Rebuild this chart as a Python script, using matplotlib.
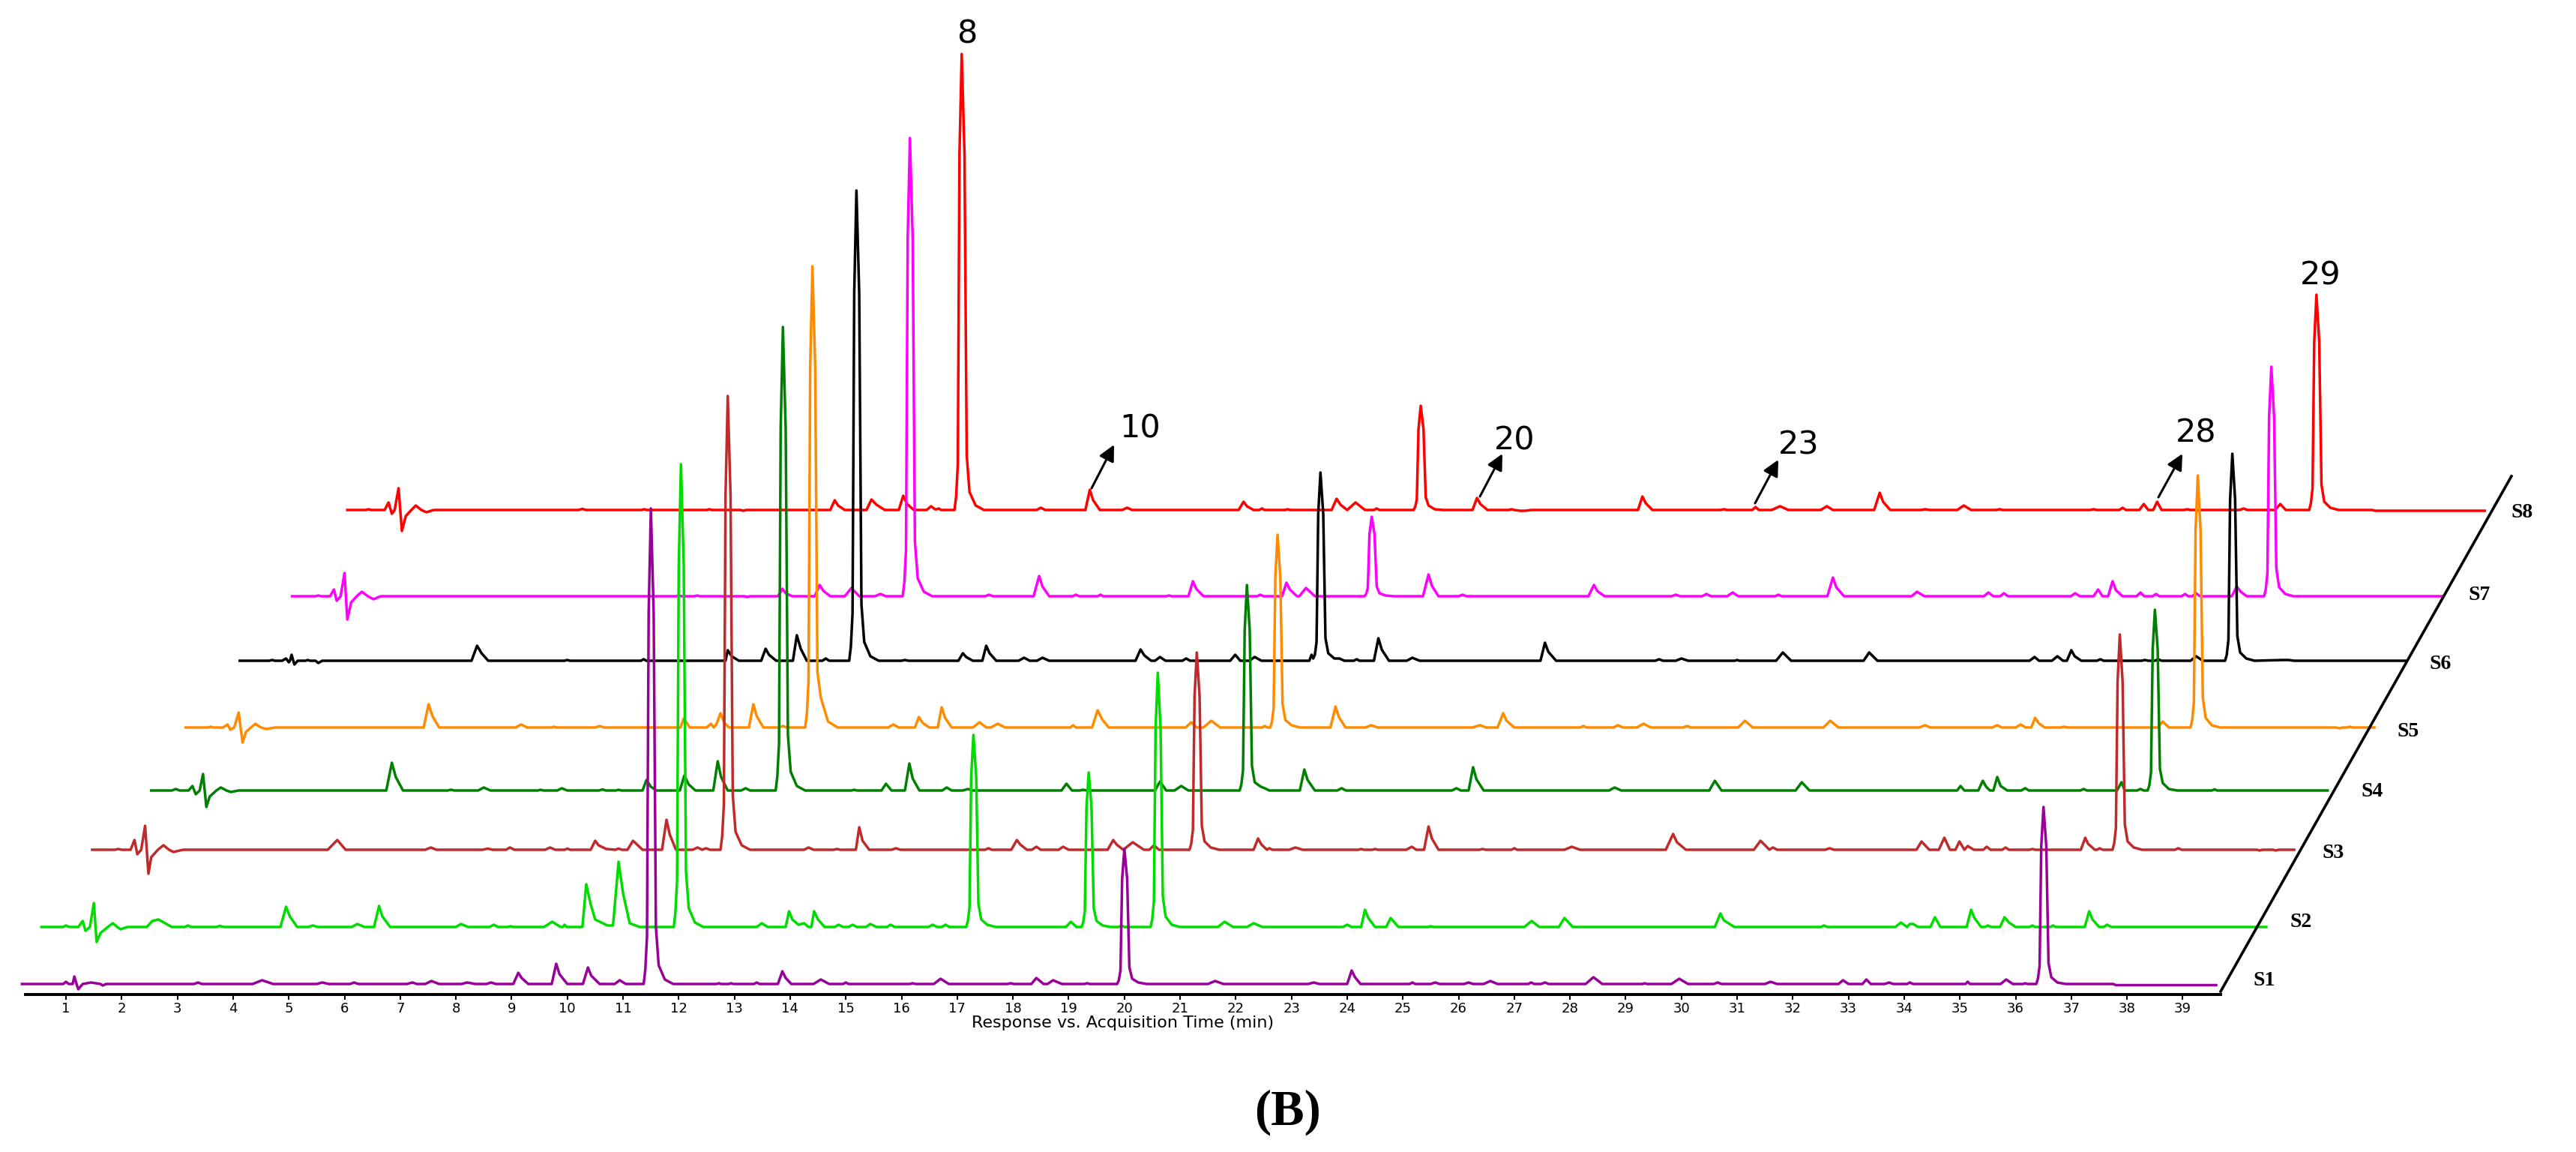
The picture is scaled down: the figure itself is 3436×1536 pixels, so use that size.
import matplotlib
matplotlib.use("Agg")
import matplotlib.pyplot as plt
from matplotlib.transforms import Affine2D

# apparent retention time read against the bottom axis (min), height above own baseline
s1_t = [0.21, 0.95, 1.0, 1.05, 1.12, 1.15, 1.19, 1.22, 1.3, 1.45, 1.62, 1.66, 1.72,
        3.3, 3.37, 3.44, 4.35, 4.52, 4.72, 5.5, 5.6, 5.72, 6.1, 6.17, 6.25, 7.12, 7.22, 7.3,
        7.45, 7.56, 7.7, 8.1, 8.2, 8.35, 8.55, 8.63, 8.72,
        9.03, 9.12, 9.18, 9.3, 9.72, 9.8, 9.86, 10.0, 10.28, 10.37, 10.43, 10.58, 10.85, 10.94, 11.05,
        11.37, 11.4, 11.43, 11.46, 11.5, 11.55, 11.59, 11.64, 11.75, 11.9,
        12.68, 12.72, 12.76, 12.9, 12.94, 12.98, 13.35, 13.4, 13.45,
        13.78, 13.86, 13.92, 14.02, 14.42, 14.55, 14.7, 14.95, 15.0, 15.05,
        16.15, 16.2, 16.25, 16.58, 16.7, 16.85, 17.9, 17.96, 18.02, 18.33, 18.42, 18.55, 18.62, 18.72, 18.88,
        19.28, 19.33, 19.38, 19.87, 19.9, 19.93, 19.96, 20.0, 20.05, 20.09, 20.14, 20.25, 20.4,
        21.5, 21.63, 21.78, 23.3, 23.4, 23.5, 24.0, 24.08, 24.14, 24.24,
        25.12, 25.17, 25.22, 25.5, 25.58, 25.66, 26.1, 26.18, 26.26, 26.45, 26.57, 26.7,
        27.25, 27.3, 27.36, 27.48, 27.55, 27.62, 28.28, 28.42, 28.58, 29.3, 29.34, 29.38, 29.82, 29.96, 30.12,
        30.58, 30.65, 30.72, 31.5, 31.6, 31.72, 32.82, 32.9, 33.0, 33.25, 33.32, 33.4, 33.65, 33.73, 33.8,
        34.05, 34.1, 34.16, 35.1, 35.14, 35.18, 35.73, 35.83, 35.95, 36.13, 36.17, 36.21,
        36.37, 36.4, 36.43, 36.46, 36.5, 36.55, 36.59, 36.64, 36.75, 36.9,
        37.75, 37.8, 39.6]
s1_y = [0, 0, 3, 0, 0, 10, 0, -7, 0, 2, 0, -2, 0,
        0, 2, 0, 0, 5, 0, 0, 2, 0, 0, 2, 0, 0, 2, 0,
        0, 4, 0, 0, 2, 0, 0, 2, 0,
        0, 15, 8, 0, 0, 27, 13, 0, 0, 22, 11, 0, 0, 5, 0,
        0, 19, 63, 495, 634, 495, 76, 25, 6, 0,
        0, 1, 0, 0, 1, 0, 0, 2, 0,
        0, 17, 8, 0, 0, 6, 0, 0, 2, 0,
        0, 1, 0, 0, 7, 0, 0, 1, 0, 0, 8, 0, 0, 5, 0,
        0, 1, 0, 0, 5, 18, 140, 180, 140, 22, 7, 2, 0,
        0, 4, 0, 0, 2, 0, 0, 18, 9, 0,
        0, 2, 0, 0, 2, 0, 0, 2, 0, 0, 4, 0,
        0, 2, 0, 0, 2, 0, 0, 9, 0, 0, 1, 0, 0, 7, 0,
        0, 2, 0, 0, 3, 0, 0, 5, 0, 0, 6, 0, 0, 2, 0,
        0, 2, 0, 0, 3, 0, 0, 6, 0, 0, 1, 0,
        0, 7, 24, 184, 236, 184, 28, 9, 2, 0,
        0, -1.5, -1.5]

s2_t = [0.56, 0.95, 1.0, 1.06, 1.22, 1.3, 1.35, 1.43, 1.5, 1.55, 1.62, 1.75, 1.84, 1.92, 1.98, 2.1,
        2.45, 2.55, 2.66, 2.9, 3.13, 3.19, 3.25, 3.7, 3.76, 3.84,
        4.85, 4.95, 5.02, 5.15, 5.35, 5.43, 5.52, 6.13, 6.23, 6.36, 6.53, 6.62, 6.68, 6.82,
        8.0, 8.09, 8.22, 8.6, 8.68, 8.76, 8.93, 8.98, 9.03, 9.58, 9.73, 9.88, 9.92, 9.95, 9.99,
        10.27, 10.34, 10.42, 10.5, 10.72, 10.82, 10.92, 11.0, 11.12, 11.3,
        11.91, 11.94, 11.97, 12.0, 12.04, 12.09, 12.13, 12.18, 12.29, 12.44,
        13.4, 13.49, 13.6, 13.92, 13.98, 14.04, 14.15, 14.25, 14.33, 14.38, 14.43, 14.5, 14.62,
        14.8, 14.87, 14.95, 15.05, 15.12, 15.2, 15.36, 15.44, 15.55, 15.74, 15.8, 15.88,
        16.48, 16.56, 16.64, 16.72, 16.79, 16.86,
        17.16, 17.19, 17.22, 17.25, 17.29, 17.34, 17.38, 17.43, 17.54, 17.69,
        18.95, 19.04, 19.14, 19.23, 19.26, 19.29, 19.32, 19.36, 19.41, 19.45, 19.5, 19.61, 19.76,
        19.9, 19.95, 20.0, 20.47, 20.5, 20.53, 20.56, 20.6, 20.65, 20.69, 20.74, 20.85, 21.0,
        21.68, 21.8, 21.95, 22.2, 22.32, 22.48, 23.92, 24.0, 24.08, 24.25, 24.32, 24.38, 24.5,
        24.7, 24.78, 24.92, 25.45, 25.5, 25.55, 27.18, 27.31, 27.45, 27.8, 27.9, 28.05,
        30.6, 30.7, 30.76, 30.95, 32.5, 32.56, 32.62, 33.84, 33.94, 34.05, 34.1, 34.16, 34.25,
        34.47, 34.55, 34.65, 35.12, 35.2, 35.26, 35.38, 35.45, 35.5, 35.56, 35.72, 35.8, 35.88, 36.0,
        36.25, 36.3, 36.35, 36.62, 36.67, 36.72, 37.24, 37.32, 37.38, 37.5, 37.58, 37.64, 37.72, 40.5]
s2_y = [0, 0, 2, 0, 0, 8, -5, 0, 32, -20, -8, 0, 5, 0, -3, 0,
        0, 8, 10, 0, 0, 2, 0, 0, 1.5, 0,
        0, 27, 14, 0, 0, 2, 0, 0, 4, 0, 0, 28, 14, 0,
        0, 4, 0, 0, 3, 0, 0, 1, 0, 0, 7, 0, 0, 3, 0,
        0, 57, 30, 10, 2, 2, 87, 45, 5, 0,
        0, 19, 62, 481, 617, 481, 74, 25, 6, 0,
        0, 5, 0, 0, 21, 10, 3, 5, 0, 0, 21, 10, 0,
        0, 3, 0, 0, 3, 0, 0, 4, 0, 0, 3, 0,
        0, 3, 0, 0, 3, 0,
        0, 8, 26, 200, 256, 200, 31, 10, 3, 0,
        0, 7, 0, 0, 6, 21, 160, 206, 160, 25, 8, 2, 0,
        0, 2, 0, 0, 10, 34, 264, 339, 264, 41, 14, 3, 0,
        0, 7, 0, 0, 5, 0, 0, 3, 0, 0, 23, 12, 0,
        0, 12, 0, 0, 1, 0, 0, 8, 0, 0, 12, 0,
        0, 18, 9, 0, 0, 2, 0, 0, 6, 0, 4, 4, 0,
        0, 13, 0, 0, 23, 12, 0, 0, 2, 0, 0, 13, 6, 0,
        0, 2, 0, 0, 2, 0, 0, 21, 10, 0, 0, 3, 0, 0]

s3_t = [1.47, 1.88, 1.94, 2.0, 2.16, 2.23, 2.28, 2.35, 2.42, 2.48, 2.53, 2.65, 2.75, 2.85, 2.93, 3.1,
        5.7, 5.87, 6.02, 7.45, 7.55, 7.65, 8.48, 8.57, 8.66, 8.9, 8.97, 9.05, 9.6, 9.69, 9.78, 9.95, 10.0, 10.05,
        10.42, 10.5, 10.56, 10.7, 10.86, 10.92, 10.98, 11.08, 11.18, 11.35,
        11.7, 11.78, 11.84, 11.95, 12.25, 12.34, 12.42, 12.49, 12.56,
        12.75, 12.78, 12.81, 12.84, 12.88, 12.93, 12.97, 13.02, 13.13, 13.28,
        14.25, 14.33, 14.42, 14.78, 14.84, 14.9, 15.18, 15.24, 15.3, 15.42,
        15.82, 15.9, 15.98, 17.5, 17.56, 17.62, 17.97, 18.07, 18.13, 18.25, 18.34, 18.42, 18.5, 18.82, 18.9, 19.0,
        19.7, 19.8, 19.86, 19.98, 20.15, 20.35, 20.45, 20.53, 20.62, 21.17, 21.2, 21.23, 21.26, 21.3, 21.35, 21.39, 21.44, 21.55, 21.7,
        22.32, 22.4, 22.46, 22.56, 22.6, 22.66, 22.96, 23.07, 23.2, 24.2, 24.25, 24.3, 24.45, 24.5, 24.55,
        25.06, 25.16, 25.24, 25.38, 25.46, 25.52, 25.64, 26.38, 26.43, 26.48, 26.95, 27.0, 27.05, 27.9, 28.03, 28.18,
        29.72, 29.85, 29.92, 30.08, 31.3, 31.42, 31.5, 31.58, 31.64, 31.72, 32.58, 32.66, 32.74, 34.22, 34.31, 34.45,
        34.62, 34.72, 34.82, 34.92, 34.99, 35.08, 35.14, 35.25, 35.42, 35.48, 35.55, 35.76, 35.82, 35.88, 36.25, 36.3, 36.35,
        37.17, 37.25, 37.3, 37.42, 37.46, 37.51, 37.56,
        37.74, 37.77, 37.8, 37.83, 37.87, 37.92, 37.96, 38.01, 38.12, 38.27,
        38.86, 38.92, 38.98, 40.33, 40.38, 40.43, 40.62, 40.67, 40.72, 41.0]
s3_y = [0, 0, 1, 0, 0, 13, -6, 0, 32, -32, -10, 0, 6, 0, -3, 0,
        0, 13, 0, 0, 3, 0, 0, 1.5, 0, 0, 3, 0, 0, 3, 0, 0, 1.5, 0,
        0, 12, 6, 1, 0, 1.5, 0, 0, 12, 0,
        0, 40, 20, 0, 0, 3, 0, 2, 0,
        0, 18, 60, 472, 605, 472, 73, 24, 6, 0,
        0, 3, 0, 0, 1, 0, 0, 30, 12, 0,
        0, 2, 0, 0, 2, 0, 0, 13, 7, 0, 0, 4, 0, 0, 4, 0,
        0, 13, 7, 0, 10, 0, 0, 6, 0, 0, 8, 26, 205, 263, 205, 32, 11, 3, 0,
        0, 15, 7, 0, 2, 0, 0, 3, 0, 0, 1, 0, 0, 1, 0,
        0, 4, 0, 0, 31, 15, 0, 0, 1, 0, 0, 2, 0, 0, 4, 0,
        0, 21, 10, 0, 0, 12, 6, 0, 3, 0, 0, 2, 0, 0, 11, 0,
        0, 16, 0, 0, 11, 0, 5, 0, 0, 4, 0, 0, 3, 0, 0, 1, 0,
        0, 16, 8, 0, 0, 2, 0,
        0, 9, 29, 224, 287, 224, 34, 11, 3, 0,
        0, 2, 0, 0, -1, 0, 0, -1, 0, 0]

s4_t = [2.53, 2.9, 2.97, 3.04, 3.2, 3.27, 3.33, 3.4, 3.46, 3.52, 3.58, 3.7, 3.78, 3.88, 3.96, 4.1,
        6.75, 6.85, 6.92, 7.05, 7.85, 7.91, 7.97, 8.4, 8.5, 8.62, 9.47, 9.52, 9.57, 9.82, 9.9, 10.0,
        10.57, 10.63, 10.69, 10.87, 10.92, 10.97, 11.35, 11.42, 11.5, 11.6, 12.02, 12.1, 12.18, 12.3,
        12.62, 12.7, 12.76, 12.88, 13.12, 13.2, 13.28,
        13.74, 13.77, 13.8, 13.83, 13.87, 13.92, 13.96, 14.01, 14.12, 14.27,
        15.1, 15.15, 15.2, 15.64, 15.72, 15.82, 16.06, 16.14, 16.2, 16.32, 16.73, 16.81, 16.9, 17.1, 17.19, 17.28,
        18.87, 18.96, 19.06, 19.2, 19.26, 19.32, 20.55, 20.64, 20.75, 20.9, 21.02, 21.15,
        22.07, 22.1, 22.13, 22.16, 22.2, 22.25, 22.29, 22.34, 22.45, 22.52, 22.6,
        23.15, 23.23, 23.29, 23.42, 23.82, 23.9, 23.98, 25.88, 25.96, 26.04, 26.18, 26.26, 26.32, 26.45,
        28.7, 28.8, 28.92, 30.5, 30.6, 30.72, 32.05, 32.16, 32.3,
        34.95, 35.01, 35.08, 35.33, 35.41, 35.47, 35.54, 35.6, 35.67, 35.73, 35.85, 36.1, 36.17, 36.24,
        37.16, 37.22, 37.28, 37.82, 37.9, 37.96, 38.18, 38.24, 38.3,
        38.37, 38.4, 38.43, 38.46, 38.5, 38.55, 38.59, 38.64, 38.75, 38.9,
        39.52, 39.57, 39.62, 41.6]
s4_y = [0, 0, 2, 0, 0, 6, -5, 0, 22, -22, -8, 0, 4, 0, -2, 0,
        0, 37, 18, 0, 0, 1, 0, 0, 4, 0, 0, 1, 0, 0, 3, 0,
        0, 1.5, 0, 0, 1, 0, 0, 14, 5, 0, 0, 20, 8, 0,
        0, 39, 18, 0, 0, 3, 0,
        0, 19, 62, 482, 618, 482, 74, 25, 6, 0,
        0, 1, 0, 0, 9, 0, 0, 36, 16, 0, 0, 4, 0, 0, 2, 0,
        0, 9, 0, 0, 1, 0, 0, 12, 0, 0, 6, 0,
        0, 8, 27, 214, 274, 214, 33, 11, 5, 3, 0,
        0, 28, 14, 0, 0, 3, 0, 0, 3, 0, 0, 31, 15, 0,
        0, 4, 0, 0, 13, 0, 0, 11, 0,
        0, 6, 0, 0, 13, 5, 0, 0, 18, 6, 0, 0, 3, 0,
        0, 2, 0, 0, 11, 0, 0, 2, 0,
        0, 7, 24, 188, 241, 188, 29, 10, 2, 0,
        0, 1.5, 0, 0]

s5_t = [3.15, 3.55, 3.6, 3.65, 3.82, 3.9, 3.95, 4.02, 4.1, 4.17, 4.23, 4.32, 4.4, 4.5, 4.6, 4.75,
        7.42, 7.51, 7.58, 7.7, 9.07, 9.17, 9.28, 9.72, 9.76, 9.8, 10.5, 10.58, 10.66, 12.03, 12.09, 12.2,
        12.5, 12.58, 12.63, 12.68, 12.75, 12.82, 12.9, 13.26, 13.34, 13.4, 13.52, 13.8, 13.87, 13.94,
        14.27, 14.3, 14.33, 14.36, 14.4, 14.45, 14.49, 14.55, 14.68, 14.85,
        15.76, 15.85, 15.95, 16.24, 16.31, 16.38, 16.5, 16.65, 16.72, 16.78, 16.9,
        17.28, 17.4, 17.52, 17.6, 17.73, 17.86, 19.03, 19.08, 19.13, 19.42, 19.52, 19.6, 19.72,
        21.1, 21.2, 21.3, 21.42, 21.56, 21.72, 22.47, 22.52, 22.57,
        22.62, 22.65, 22.68, 22.71, 22.75, 22.8, 22.84, 22.89, 23.0, 23.15,
        23.7, 23.79, 23.85, 23.97, 24.33, 24.43, 24.55, 26.25, 26.38, 26.5, 26.7, 26.8, 26.86, 27.0,
        28.18, 28.24, 28.3, 28.78, 28.86, 28.95, 29.2, 29.32, 29.45, 30.03, 30.1, 30.17,
        31.02, 31.14, 31.28, 32.55, 32.67, 32.82, 34.27, 34.37, 34.47,
        35.58, 35.67, 35.75, 36.0, 36.09, 36.18, 36.28, 36.35, 36.41, 36.52, 36.8, 36.87, 36.94,
        38.55, 38.64, 38.75,
        39.14, 39.17, 39.2, 39.23, 39.27, 39.32, 39.36, 39.41, 39.52, 39.67,
        41.75, 41.81, 41.87, 41.95, 42.0, 42.05, 42.44]
s5_y = [0, 0, 1, 0, 0, 4, -3, 0, 20, -20, -6, 0, 5, 0, -2, 0,
        0, 31, 15, 0, 0, 4, 0, 0, 1, 0, 0, 2, 0, 0, 12, 0,
        0, 5, 0, 5, 19, 6, 0, 0, 31, 15, 0, 0, 2, 0,
        0, 18, 62, 480, 615, 480, 74, 40, 8, 0,
        0, 4, 0, 0, 14, 6, 0, 0, 27, 13, 0,
        0, 7, 0, 0, 5, 0, 0, 3, 0, 0, 23, 11, 0,
        0, 7, 0, 0, 9, 0, 0, 2, 0,
        0, 8, 26, 200, 257, 200, 31, 10, 3, 0,
        0, 28, 14, 0, 0, 3, 0, 0, 3, 0, 0, 19, 9, 0,
        0, 2, 0, 0, 3, 0, 0, 5, 0, 0, 2, 0,
        0, 9, 0, 0, 9, 0, 0, 3, 0,
        0, 3, 0, 0, 4, 0, 0, 13, 6, 0, 0, 1, 0,
        0, 8, 0,
        0, 10, 34, 262, 336, 262, 40, 13, 3, 0,
        0, -1, 0, 0, 1, 0, 0]

s6_t = [4.12, 4.65, 4.7, 4.75, 4.88, 4.95, 5.0, 5.02, 5.05, 5.1, 5.16, 5.3, 5.34, 5.38, 5.48, 5.53, 5.6,
        8.28, 8.38, 8.46, 8.58, 9.95, 10.0, 10.05, 11.32, 11.37, 11.42,
        12.84, 12.88, 12.95, 13.08, 13.48, 13.56, 13.62, 13.75, 14.05, 14.12, 14.19, 14.3, 14.58, 14.64, 14.7,
        15.06, 15.09, 15.12, 15.15, 15.19, 15.24, 15.28, 15.33, 15.44, 15.59,
        16.0, 16.06, 16.12, 17.02, 17.1, 17.16, 17.28, 17.45, 17.52, 17.58, 17.7,
        18.1, 18.2, 18.3, 18.43, 18.53, 18.65, 20.2, 20.29, 20.36, 20.48, 20.55, 20.64, 20.74,
        21.04, 21.11, 21.18, 21.9, 21.99, 22.08, 22.24, 22.34, 22.46,
        23.32, 23.36, 23.39, 23.42, 23.45, 23.48, 23.52, 23.57, 23.61, 23.66, 23.77, 23.86, 23.95,
        24.12, 24.17, 24.22, 24.48, 24.56, 24.62, 24.75, 25.07, 25.17, 25.3,
        27.47, 27.55, 27.61, 27.75, 29.53, 29.6, 29.67, 29.9, 30.0, 30.12, 30.96, 31.0, 31.04,
        31.7, 31.82, 31.97, 33.27, 33.37, 33.52,
        36.25, 36.34, 36.42, 36.65, 36.75, 36.85, 36.92, 37.0, 37.06, 37.18, 37.46, 37.52, 37.58,
        38.26, 38.32, 38.38, 38.5, 38.56, 38.62, 39.14, 39.24, 39.36,
        39.76, 39.79, 39.82, 39.85, 39.89, 39.94, 39.98, 40.03, 40.14, 40.29,
        40.8, 40.9, 41.0, 43.02]
s6_y = [0, 0, 1, 0, 0, 3, -2, 0, 8, -5, 0, 0, 1, 0, 0, -3, 0,
        0, 20, 10, 0, 0, 1, 0, 0, 2, 0,
        0, 14, 6, 0, 0, 16, 8, 0, 0, 34, 16, 0, 0, 3, 0,
        0, 19, 63, 489, 627, 489, 75, 25, 6, 0,
        0, 1, 0, 0, 10, 5, 0, 0, 20, 10, 0,
        0, 4, 0, 0, 4, 0, 0, 15, 7, 0, 0, 5, 0,
        0, 3, 0, 0, 8, 0, 0, 5, 0,
        0, 8, 3, 8, 25, 196, 251, 196, 30, 10, 3, 3, 0,
        0, 2, 0, 0, 30, 15, 0, 0, 4, 0,
        0, 24, 12, 0, 0, 2, 0, 0, 3, 0, 0, 1, 0,
        0, 11, 0, 0, 11, 0,
        0, 5, 0, 0, 6, 0, 0, 14, 6, 0, 0, 2, 0,
        0, 1, 0, 0, 2, 0, 0, 6, 0,
        0, 8, 28, 215, 276, 215, 33, 11, 3, 0,
        1, 1, 0, 0]

s7_t = [5.06, 5.48, 5.53, 5.58, 5.74, 5.81, 5.86, 5.93, 6.0, 6.05, 6.12, 6.22, 6.31, 6.42, 6.52, 6.65,
        11.95, 12.0, 12.05, 12.28, 12.33, 12.38, 13.18, 13.23, 13.28,
        13.78, 13.86, 13.92, 14.04, 14.44, 14.53, 14.6, 14.72, 14.98, 15.1, 15.24, 15.52, 15.62, 15.72,
        16.02, 16.05, 16.08, 16.11, 16.15, 16.2, 16.24, 16.29, 16.4, 16.55,
        17.5, 17.57, 17.64, 18.37, 18.47, 18.53, 18.65, 19.07, 19.13, 19.19, 19.52, 19.57, 19.62,
        20.75, 20.8, 20.85, 21.15, 21.23, 21.29, 21.42, 22.38, 22.44, 22.5,
        22.83, 22.91, 22.97, 23.1, 23.14, 23.26, 23.42,
        24.31, 24.34, 24.37, 24.4, 24.44, 24.49, 24.53, 24.58, 24.69, 24.84,
        25.36, 25.46, 25.52, 25.64, 26.0, 26.07, 26.14, 28.33, 28.43, 28.49, 28.62,
        29.82, 29.9, 29.98, 30.37, 30.45, 30.53, 30.82, 30.92, 31.02, 31.68, 31.74, 31.8,
        32.62, 32.72, 32.78, 32.92, 34.13, 34.23, 34.36,
        35.43, 35.51, 35.6, 35.72, 35.79, 35.86, 36.99, 37.07, 37.15, 37.4, 37.48, 37.56,
        37.66, 37.74, 37.8, 37.92, 38.17, 38.24, 38.31, 38.46, 38.52, 38.58,
        38.98, 39.04, 39.1, 39.17, 39.24, 39.31, 39.88, 39.97, 40.04, 40.15,
        40.46, 40.49, 40.52, 40.55, 40.59, 40.64, 40.68, 40.73, 40.84, 40.99, 43.66]
s7_y = [0, 0, 1, 0, 0, 9, -6, 0, 31, -31, -8, 0, 6, 0, -4, 0,
        0, 1, 0, 0, 1, 0, 0, -1, 0,
        0, 10, 4, 0, 0, 15, 7, 0, 0, 11, 0, 0, 3, 0,
        0, 18, 61, 477, 611, 477, 73, 24, 6, 0,
        0, 2, 0, 0, 27, 13, 0, 0, 2, 0, 0, 2, 0,
        0, 1, 0, 0, 20, 10, 0, 0, 2, 0,
        0, 18, 9, 0, 0, 11, 0,
        0, 3, 11, 83, 106, 83, 13, 4, 1, 0,
        0, 29, 14, 0, 0, 2, 0, 0, 15, 7, 0,
        0, 2, 0, 0, 3, 0, 0, 5, 0, 0, 2, 0,
        0, 25, 12, 0, 0, 6, 0,
        0, 5, 0, 0, 4, 0, 0, 4, 0, 0, 9, 0,
        0, 20, 8, 0, 0, 5, 0, 0, 3, 0,
        0, 3, 0, 0, 4, 0, 0, 13, 6, 0,
        0, 9, 31, 239, 306, 239, 37, 12, 3, 0, 0]

s8_t = [6.05, 6.38, 6.43, 6.48, 6.72, 6.79, 6.85, 6.9, 6.97, 7.03, 7.1, 7.2, 7.28, 7.38, 7.47, 7.6,
        10.2, 10.27, 10.34, 11.33, 11.38, 11.43, 12.5, 12.55, 12.6, 13.11, 13.16, 13.21,
        14.72, 14.8, 14.86, 14.98, 15.37, 15.46, 15.55, 15.7, 15.95, 16.03, 16.1, 16.22, 16.45, 16.53, 16.6, 16.63, 16.67, 16.71,
        16.95, 16.98, 17.01, 17.04, 17.08, 17.13, 17.17, 17.22, 17.33, 17.48,
        18.42, 18.5, 18.58, 19.3, 19.38, 19.44, 19.56, 19.96, 20.05, 20.14,
        22.05, 22.14, 22.2, 22.32, 22.42, 22.47, 22.52, 22.88, 22.93, 22.98,
        23.72, 23.81, 23.88, 24.0, 24.15, 24.32, 24.48, 24.53, 24.58,
        25.19, 25.22, 25.25, 25.28, 25.32, 25.37, 25.41, 25.46, 25.57, 25.72,
        26.25, 26.33, 26.39, 26.52, 26.9, 26.95, 27.0, 27.1, 27.2, 27.3,
        29.22, 29.3, 29.36, 29.48, 30.7, 30.76, 30.82, 31.27, 31.33, 31.39, 31.62, 31.77, 31.92,
        32.5, 32.61, 32.72, 33.46, 33.56, 33.62, 33.75, 34.3, 34.38, 34.46,
        34.95, 35.07, 35.2, 35.65, 35.71, 35.77, 37.34, 37.4, 37.46, 37.86, 37.92, 37.98,
        38.22, 38.3, 38.38, 38.47, 38.54, 38.62, 39.02, 39.08, 39.14, 40.02, 40.09, 40.16,
        40.66, 40.75, 40.85, 41.27, 41.3, 41.33, 41.36, 41.4, 41.45, 41.49, 41.54, 41.65, 41.8,
        42.4, 42.45, 42.5, 44.42]
s8_y = [0, 0, 1, 0, 0, 10, -5, 0, 29, -28, -8, 0, 6, 0, -3, 0,
        0, 1.5, 0, 0, 1, 0, 0, 1, 0, 0, -1, 0,
        0, 13, 6, 0, 0, 14, 7, 0, 0, 19, 8, 0, 0, 5, 1, 1, 2, 0,
        0, 18, 61, 474, 608, 474, 73, 24, 6, 0,
        0, 3, 0, 0, 27, 13, 0, 0, 3, 0,
        0, 11, 5, 0, 0, 2, 0, 0, 1, 0,
        0, 15, 7, 0, 10, 0, 0, 2, 0,
        0, 4, 14, 108, 139, 108, 17, 6, 1, 0,
        0, 16, 8, 0, 0, 1, 0, -1, -1, 0,
        0, 18, 9, 0, 0, 1, 0, 0, 4, 0, 0, 5, 0,
        0, 5, 0, 0, 23, 11, 0, 0, 1, 0,
        0, 6, 0, 0, 1, 0, 0, 1, 0, 0, 3, 0,
        0, 8, 0, 0, 11, 0, 0, 1, 0, 0, 2, 0,
        0, 8, 0, 0, 9, 29, 224, 287, 224, 34, 11, 3, 0,
        0, -1, -1, -1]

series_t = [s1_t, s2_t, s3_t, s4_t, s5_t, s6_t, s7_t, s8_t]
series_y = [s1_y, s2_y, s3_y, s4_y, s5_y, s6_y, s7_y, s8_y]
colors = ["#990099", "#00DC00", "#C02A2A", "#008000", "#FF8C00", "#000000", "#FF00FF", "#FF0000"]
labels = ["S1", "S2", "S3", "S4", "S5", "S6", "S7", "S8"]
ticks = list(range(1, 40))

W, H = 3436, 1536
AXIS_Y = 1326
baselines = [1312, 1236, 1133, 1054, 970, 881, 795, 680]
label_xy = [(3020, 1307), (3069, 1230), (3112, 1137), (3164, 1056),
            (3212, 976), (3255, 885), (3307, 794), (3364, 684)]

fig = plt.figure(figsize=(W / 100, H / 100), dpi=100)
ax = fig.add_axes([34 / W, (H - AXIS_Y) / H, (2962 - 34) / W, AXIS_Y / H])
ax.set_xlim(0.273, 39.68)
ax.set_ylim(0, AXIS_Y)
for name in ["left", "right", "top"]:
    ax.spines[name].set_visible(False)
ax.spines["bottom"].set_linewidth(2.8)
ax.set_yticks([])
ax.set_xticks(ticks)
ax.tick_params(axis="x", length=5, width=1.5, labelsize=13, pad=2)
ax.set_xlabel("Response vs. Acquisition Time (min)", fontsize=16, labelpad=0)
ax.patch.set_alpha(0)

# front trace last so it lies over the ones behind
for i in range(7, -1, -1):
    base = AXIS_Y - baselines[i]
    ax.plot(series_t[i], [v + base for v in series_y[i]], color=colors[i], lw=2.5,
            clip_on=False, solid_joinstyle="round")

# top-down pixel frame for the decoration
px = Affine2D().scale(1, -1).translate(0, H)

ax.plot([39.68, 44.9], [4, 691], color="black", lw=2.6, clip_on=False)

for name, (x, y) in zip(labels, label_xy):
    ax.text(x, y, name, transform=px, family="Liberation Serif", weight="bold",
            fontsize=20, ha="center", va="center")

peak_names = ["8", "10", "20", "23", "28", "29"]
peak_xy = [(1290, 46), (1521, 571), (2020, 588), (2399, 594), (2929, 578), (3095, 368)]
for name, (x, y) in zip(peak_names, peak_xy):
    ax.text(x, y, name, transform=px, fontsize=31, ha="center", va="center")

arrows = [((1456, 651), (1486, 593)), ((1974, 662), (2004, 605)),
          ((2341, 671), (2372, 613)), ((2879, 663), (2911, 605))]
for tail, head in arrows:
    ax.annotate("", xy=head, xytext=tail, xycoords=px, textcoords=px,
                arrowprops=dict(arrowstyle="-|>", color="black", lw=2.2, mutation_scale=32,
                                shrinkA=0, shrinkB=0))

ax.text(1718, 1483, "(B)", transform=px, family="Liberation Serif", weight="bold",
        fontsize=48, ha="center", va="center")

fig.savefig("out.png", dpi=100)
